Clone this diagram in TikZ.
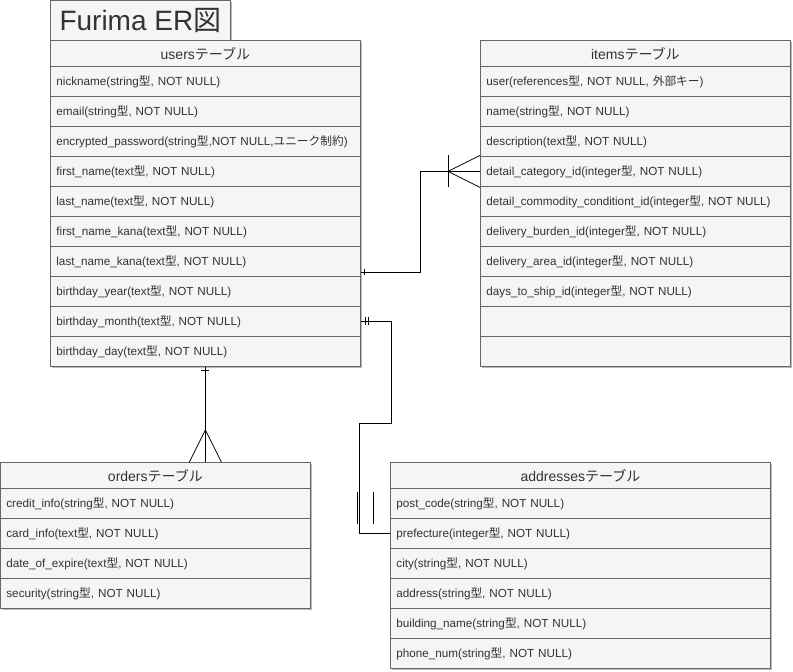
\documentclass[tikz,border=0pt]{standalone}
\usepackage{fontspec}
\setmainfont{Liberation Sans}
\newfontfamily\jpf{Noto Sans CJK JP}
\newcommand\J[1]{{\jpf #1}}
\usetikzlibrary{shadows,calc}
\definecolor{tblfill}{HTML}{F5F5F5}
\definecolor{tblline}{HTML}{666666}
\definecolor{tbltext}{HTML}{333333}
\definecolor{shadowc}{HTML}{BBBBBB}
\tikzset{
  tblbase/.style={draw=tblline, fill=tblfill, text=tbltext, rectangle, inner xsep=6pt, inner ysep=0pt, anchor=north west,
    line width=0.8pt, general shadow={fill=shadowc, shadow xshift=2pt, shadow yshift=-2pt}},
  row/.style={tblbase, text width=#1, minimum height=30pt, align=left, font=\fontsize{11.7}{14}\selectfont},
  hdr/.style={tblbase, text width=#1, minimum height=26pt, align=center, font=\fontsize{14}{16}\selectfont},
  conn/.style={draw=black, line width=0.8pt},
}
\begin{document}
\begin{tikzpicture}[x=1pt,y=-1pt]
\useasboundingbox (0,0) rectangle (793,672);
% title
\node[tblbase, minimum width=180pt, minimum height=40pt, inner xsep=0pt, align=center, font=\fontsize{28}{30}\selectfont] (title) at (50,0) {Furima ER\J{図}};
% users
\node[hdr=298pt] (users) at (50,40) {users\J{テーブル}};
\node[row=298pt] (u1) at (50,66) {nickname(string\J{型}, NOT NULL)};
\node[row=298pt] (u2) at (50,96) {email(string\J{型}, NOT NULL)};
\node[row=298pt] (u3) at (50,126) {\mbox{encrypted\_password(string\J{型},NOT NULL,\J{ユニーク制約})}};
\node[row=298pt] (u4) at (50,156) {first\_name(text\J{型}, NOT NULL)};
\node[row=298pt] (u5) at (50,186) {last\_name(text\J{型}, NOT NULL)};
\node[row=298pt] (u6) at (50,216) {first\_name\_kana(text\J{型}, NOT NULL)};
\node[row=298pt] (u7) at (50,246) {last\_name\_kana(text\J{型}, NOT NULL)};
\node[row=298pt] (u8) at (50,276) {birthday\_year(text\J{型}, NOT NULL)};
\node[row=298pt] (u9) at (50,306) {birthday\_month(text\J{型}, NOT NULL)};
\node[row=298pt] (u10) at (50,336) {birthday\_day(text\J{型}, NOT NULL)};
% items
\node[hdr=298pt] (items) at (480,40) {items\J{テーブル}};
\node[row=298pt] (i1) at (480,66) {user(references\J{型}, NOT NULL, \J{外部キー})};
\node[row=298pt] (i2) at (480,96) {name(string\J{型}, NOT NULL)};
\node[row=298pt] (i3) at (480,126) {description(text\J{型}, NOT NULL)};
\node[row=298pt] (i4) at (480,156) {detail\_category\_id(integer\J{型}, NOT NULL)};
\node[row=298pt] (i5) at (480,186) {\mbox{detail\_commodity\_conditiont\_id(integer\J{型}, NOT NULL)}};
\node[row=298pt] (i6) at (480,216) {delivery\_burden\_id(integer\J{型}, NOT NULL)};
\node[row=298pt] (i7) at (480,246) {delivery\_area\_id(integer\J{型}, NOT NULL)};
\node[row=298pt] (i8) at (480,276) {days\_to\_ship\_id(integer\J{型}, NOT NULL)};
\node[row=298pt] (i9) at (480,306) {};
\node[row=298pt] (i10) at (480,336) {};
% orders
\node[hdr=298pt] (orders) at (0,462) {orders\J{テーブル}};
\node[row=298pt] (o1) at (0,488) {credit\_info(string\J{型}, NOT NULL)};
\node[row=298pt] (o2) at (0,518) {card\_info(text\J{型}, NOT NULL)};
\node[row=298pt] (o3) at (0,548) {date\_of\_expire(text\J{型}, NOT NULL)};
\node[row=298pt] (o4) at (0,578) {security(string\J{型}, NOT NULL)};
% addresses
\node[hdr=368pt] (addr) at (390,462) {addresses\J{テーブル}};
\node[row=368pt] (a1) at (390,488) {post\_code(string\J{型}, NOT NULL)};
\node[row=368pt] (a2) at (390,518) {prefecture(integer\J{型}, NOT NULL)};
\node[row=368pt] (a3) at (390,548) {city(string\J{型}, NOT NULL)};
\node[row=368pt] (a4) at (390,578) {address(string\J{型}, NOT NULL)};
\node[row=368pt] (a5) at (390,608) {building\_name(string\J{型}, NOT NULL)};
\node[row=368pt] (a6) at (390,638) {phone\_num(string\J{型}, NOT NULL)};
% connector users - items
\coordinate (ua) at ([yshift=-11pt]u7.east);
\draw[conn] (ua) -- ++(60,0) |- (i4.west);
\draw[conn] ([xshift=4pt]ua) ++(0,-3) -- ++(0,6);
\draw[conn] ([xshift=-32pt]i4.west) -- ([yshift=16pt]i4.west);
\draw[conn] ([xshift=-32pt]i4.west) -- ([yshift=-16pt]i4.west);
\draw[conn] ([xshift=-32pt,yshift=16pt]i4.west) -- ([xshift=-32pt,yshift=-16pt]i4.west);
% connector users - addresses
\coordinate (ub) at (u9.east);
\draw[conn] (ub) -- ++(31,0) -- ++(0,102) -- ++(-32,0) |- (a2.west);
\draw[conn] ([xshift=5pt]ub) ++(0,-4) -- ++(0,8);
\draw[conn] ([xshift=8pt]ub) ++(0,-4) -- ++(0,8);
\draw[conn] ([xshift=-33pt,yshift=9pt]a2.west) -- ++(0,-32);
\draw[conn] ([xshift=-17pt,yshift=9pt]a2.west) -- ++(0,-32);
% connector users - orders
\coordinate (uc) at (u10.south);
\draw[conn] (uc) -- (uc |- orders.north);
\draw[conn] ([yshift=-4pt]uc) ++(-4,0) -- ++(8,0);
\draw[conn] ([yshift=32pt]uc |- orders.north) -- ([xshift=-16pt]uc |- orders.north);
\draw[conn] ([yshift=32pt]uc |- orders.north) -- ([xshift=16pt]uc |- orders.north);
\end{tikzpicture}
\end{document}
